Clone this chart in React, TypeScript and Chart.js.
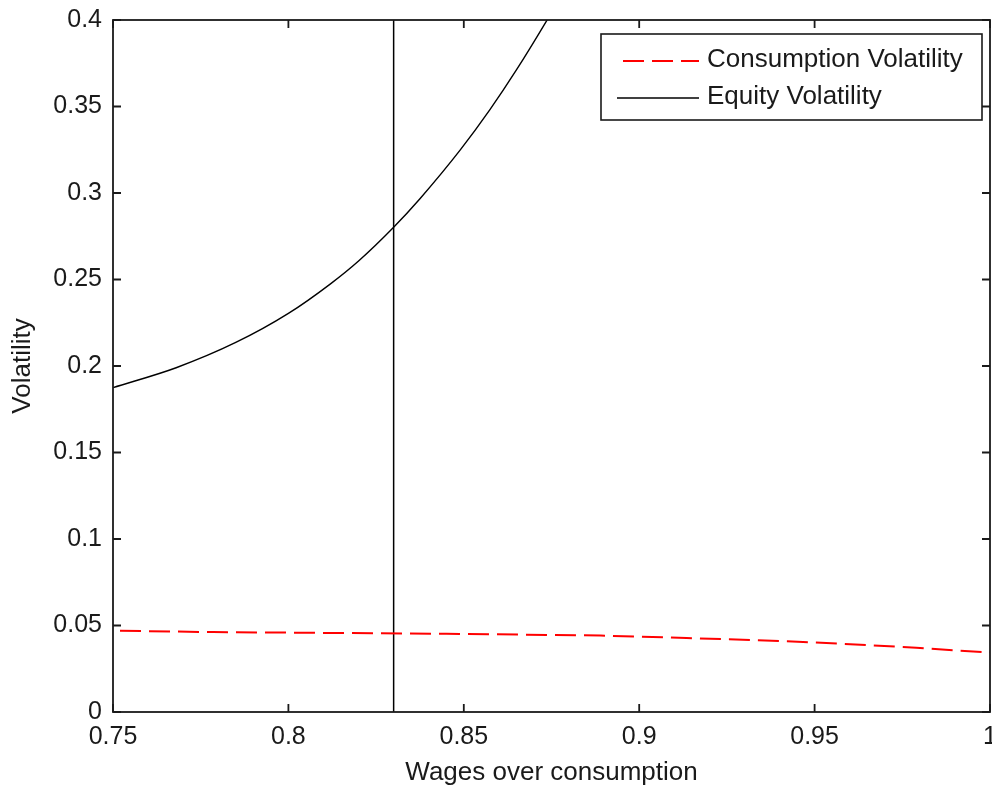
import React, { useEffect, useRef } from "react";
import { Chart, registerables } from "chart.js";

Chart.register(...registerables);

// ---- data ----
const xTicks = [0.75, 0.8, 0.85, 0.9, 0.95, 1];
const yTicks = [0, 0.05, 0.1, 0.15, 0.2, 0.25, 0.3, 0.35, 0.4];

const equityX = [0.75, 0.768, 0.785, 0.8, 0.812, 0.82, 0.83, 0.8375, 0.849, 0.8575, 0.865, 0.8741, 0.88];
const equityY = [0.1875, 0.199, 0.2136, 0.2304, 0.2475, 0.2607, 0.2802, 0.2967, 0.3249, 0.3483, 0.3711, 0.4012, 0.4218];

const consX = [0.75, 0.7785, 0.845, 0.889, 0.9135, 0.9316, 0.9467, 0.958, 0.979, 0.9895, 1.0];
const consY = [0.047, 0.0462, 0.0452, 0.0442, 0.0428, 0.0416, 0.0405, 0.0394, 0.0372, 0.0356, 0.0345];

const markerX = [0.83, 0.83];
const markerY = [0, 0.4];

const seriesLabels = ["Consumption Volatility", "Equity Volatility"];
const xTitle = "Wages over consumption";
const yTitle = "Volatility";

const FONT = "'Liberation Sans', Arial, sans-serif";
const TEXT = "#1a1a1a";
const FSIZE = 25;
const TSIZE = 26;

const toPts = (xs: number[], ys: number[]) => xs.map((x, i) => ({ x, y: ys[i] }));

const framePlugin = {
  id: "matlabFrame",
  afterDatasetsDraw(chart: any) {
    const { ctx, chartArea: a, scales } = chart;
    const sx = scales.x;
    const sy = scales.y;
    ctx.save();
    ctx.strokeStyle = "#1a1a1a";
    ctx.lineWidth = 1.8;
    ctx.setLineDash([]);
    ctx.strokeRect(a.left, a.top, a.right - a.left, a.bottom - a.top);
    const L = 8;
    ctx.beginPath();
    xTicks.forEach((v) => {
      const px = sx.getPixelForValue(v);
      ctx.moveTo(px, a.bottom);
      ctx.lineTo(px, a.bottom - L);
      ctx.moveTo(px, a.top);
      ctx.lineTo(px, a.top + L);
    });
    yTicks.forEach((v) => {
      const py = sy.getPixelForValue(v);
      ctx.moveTo(a.left, py);
      ctx.lineTo(a.left + L, py);
      ctx.moveTo(a.right, py);
      ctx.lineTo(a.right - L, py);
    });
    ctx.stroke();

    // legend box
    const bx = 601, by = 34, bw = 381, bh = 86;
    ctx.fillStyle = "#ffffff";
    ctx.fillRect(bx, by, bw, bh);
    ctx.lineWidth = 1.6;
    ctx.strokeStyle = "#1a1a1a";
    ctx.strokeRect(bx, by, bw, bh);

    const rows = [61, 98];
    ctx.beginPath();
    ctx.strokeStyle = "#ff0000";
    ctx.lineWidth = 2;
    ctx.setLineDash([21, 8]);
    ctx.lineDashOffset = 23;
    ctx.moveTo(617, rows[0]);
    ctx.lineTo(699, rows[0]);
    ctx.stroke();
    ctx.beginPath();
    ctx.setLineDash([]);
    ctx.strokeStyle = "#000000";
    ctx.lineWidth = 1.4;
    ctx.moveTo(617, rows[1]);
    ctx.lineTo(699, rows[1]);
    ctx.stroke();

    ctx.fillStyle = TEXT;
    ctx.font = `${TSIZE}px ${FONT}`;
    ctx.textBaseline = "middle";
    ctx.textAlign = "left";
    ctx.fillText(seriesLabels[0], 707, rows[0] - 1);
    ctx.fillText(seriesLabels[1], 707, rows[1] - 1);
    ctx.restore();
  },
};

export default function App() {
  const ref = useRef<HTMLCanvasElement | null>(null);

  useEffect(() => {
    if (!ref.current) return;
    const chart = new Chart(ref.current, {
      type: "scatter",
      data: {
        datasets: [
          {
            label: seriesLabels[0],
            data: toPts(consX, consY),
            showLine: true,
            borderColor: "#ff0000",
            backgroundColor: "#ff0000",
            borderWidth: 2,
            borderDash: [21, 8],
            borderDashOffset: 22,
            pointRadius: 0,
            tension: 0,
          },
          {
            label: seriesLabels[1],
            data: toPts(equityX, equityY),
            showLine: true,
            borderColor: "#000000",
            backgroundColor: "#000000",
            borderWidth: 1.4,
            pointRadius: 0,
            cubicInterpolationMode: "monotone",
          },
          {
            label: "marker",
            data: toPts(markerX, markerY),
            showLine: true,
            borderColor: "#000000",
            borderWidth: 1.5,
            pointRadius: 0,
          },
        ],
      } as any,
      options: {
        responsive: false,
        animation: false,
        devicePixelRatio: 1,
        layout: { padding: { left: 0, right: 2, top: 20, bottom: 0 } },
        plugins: { legend: { display: false }, tooltip: { enabled: false } },
        scales: {
          x: {
            type: "linear",
            min: 0.75,
            max: 1,
            grid: { display: false, drawTicks: false },
            border: { display: false },
            ticks: {
              autoSkip: false,
              maxRotation: 0,
              padding: 10,
              color: TEXT,
              font: { family: FONT, size: FSIZE },
              callback: (v: any) => String(Number(v)),
            },
            afterBuildTicks: (s: any) => {
              s.ticks = xTicks.map((v) => ({ value: v }));
            },
            afterFit: (s: any) => {
              s.height = 76;
              s.paddingLeft = 0;
              s.paddingRight = 0;
            },
            title: {
              display: true,
              text: xTitle,
              color: TEXT,
              font: { family: FONT, size: TSIZE },
              padding: { top: 0, bottom: 0 },
            },
          },
          y: {
            type: "linear",
            min: 0,
            max: 0.4,
            grid: { display: false, drawTicks: false },
            border: { display: false },
            ticks: {
              autoSkip: false,
              padding: 11,
              color: TEXT,
              font: { family: FONT, size: FSIZE },
              callback: (v: any) => String(Number(v)),
            },
            afterBuildTicks: (s: any) => {
              s.ticks = yTicks.map((v) => ({ value: v }));
            },
            afterFit: (s: any) => {
              s.width = 113;
              s.paddingTop = 0;
              s.paddingBottom = 0;
            },
            title: {
              display: true,
              text: yTitle,
              color: TEXT,
              font: { family: FONT, size: TSIZE },
              padding: { top: 7, bottom: 0 },
            },
          },
        },
      } as any,
      plugins: [framePlugin],
    });
    return () => chart.destroy();
  }, []);

  return (
    <div style={{ position: "fixed", left: 0, top: 0, width: 992, height: 788, background: "#fff" }}>
      <canvas ref={ref} width={992} height={788} style={{ display: "block" }} />
    </div>
  );
}
